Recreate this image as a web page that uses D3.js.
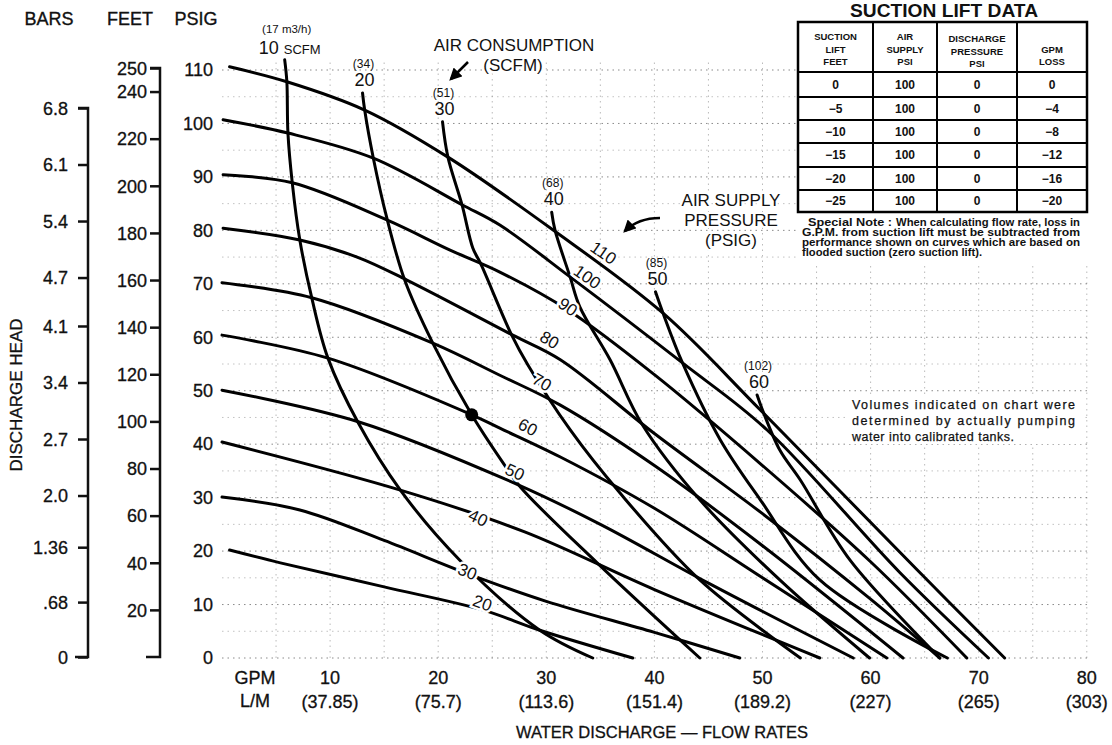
<!DOCTYPE html>
<html><head><meta charset="utf-8">
<script src="https://cdn.jsdelivr.net/npm/d3@7"></script>
<style>
body{margin:0;background:#fff}
svg{display:block}
text{font-family:"Liberation Sans",Arial,Helvetica,sans-serif;fill:#111}
</style>
</head><body>
<svg id="c" width="1112" height="745"></svg>
<script>
// ---------- DATA ----------
const psiTicks = [0,10,20,30,40,50,60,70,80,90,100,110];
const feetTicks = [20,40,60,80,100,120,140,160,180,200,220,240,250];
const barTicks = [0,0.68,1.36,2.0,2.7,3.4,4.1,4.7,5.4,6.1,6.8];
const barLabels = ["0",".68","1.36","2.0","2.7","3.4","4.1","4.7","5.4","6.1","6.8"];
const gpmTicks = [10,20,30,40,50,60,70,80];
const lpmLabels = ["(37.85)","(75.7)","(113.6)","(151.4)","(189.2)","(227)","(265)","(303)"];

// Air supply pressure curves: [GPM, PSIG head]
const psi110 = [[0.7,110.6],[6.0,107.8],[13.2,102.5],[20.9,93.7],[30.6,80.1],[40.8,64.5],[49.8,46.4],[64.3,16.5],[72.4,0]];
const psi100 = [[0.1,100.7],[6.1,98.2],[14.0,93.5],[22.2,84.8],[25.7,81.0],[32.2,71.3],[42.6,55.2],[50.4,42.7],[62.7,16.0],[70.9,0]];
const psi90  = [[0.1,90.4],[6.5,88.9],[15.3,81.9],[21.1,76.3],[25.7,72.2],[32.0,65.1],[40,53],[50,36],[60,18],[68.9,0]];
const psi80  = [[0.1,80.4],[7.2,78.2],[12.5,75.0],[17.1,70.7],[26.9,60.4],[31.3,55.8],[40,42],[50,27],[60,11],[66.4,0]];
const psi70  = [[0.0,70.2],[8.3,67.4],[19.5,58.9],[25.7,52.9],[31.3,47.3],[40,36],[50,21],[63.0,0]];
const psi60  = [[0.0,60.4],[9.8,56.1],[23.1,45.5],[25.7,43.0],[31.3,37.6],[40,28],[50,15],[61.5,0]];
const psi50  = [[0.0,50.1],[12.6,44.2],[27.4,32.4],[35,25],[45,14],[58.4,0]];
const psi40  = [[0.0,40.4],[16.5,31.4],[28,23.6],[40,12.8],[55.3,0]];
const psi30  = [[0.0,30.1],[7.2,27.7],[15,22.0],[22.7,15.8],[30,10.6],[40,4.8],[47.9,0]];
const psi20  = [[0.7,20.2],[5.4,17.8],[15,13.3],[24.1,9.0],[29.4,5.2],[38.0,0]];
const pressureCurves = [psi110,psi100,psi90,psi80,psi70,psi60,psi50,psi40,psi30,psi20];
const pressureNames = ["110","100","90","80","70","60","50","40","30","20"];
// label anchor [GPM, PSIG, rotation deg]
const pressureLabelPos = [[35.3,75.8,35],[33.8,71.3,35],[32.0,65.7,35],[30.3,59.5,30],[29.6,51.6,30],[28.3,43.2,27],[27.1,34.8,25],[23.7,26.2,25],[22.7,16.2,22],[24.1,10.3,20]];

// Air consumption curves (SCFM): [GPM, PSIG]
const scfm10 = [[5.8,111.9],[6.0,107.8],[6.1,98.2],[6.5,88.9],[7.2,78.2],[8.3,67.4],[9.8,56.1],[12.6,44.0],[16.5,31.4],[22.0,18.3],[29.4,5.2],[34.3,0]];
const scfm20 = [[13.0,105.7],[13.2,102.5],[14.0,93.5],[15.3,81.9],[16.9,70.7],[19.5,58.9],[23.1,45.5],[26.0,36.5],[27.6,32.0],[34.7,17.8],[44.2,0]];
const scfm30 = [[20.4,100.3],[20.9,93.7],[22.2,84.8],[23.2,76.7],[23.9,73.9],[26.8,60.4],[28.3,54.8],[32.2,42.7],[36.8,30.9],[44.2,14.6],[53.5,0]];
const scfm40 = [[30.5,83.4],[30.8,80.1],[32.2,71.3],[33.1,65.7],[35.9,55.8],[38.9,43.6],[44.2,29.6],[51.6,14.6],[59.9,0]];
const scfm50 = [[40.1,68.5],[40.8,64.5],[42.6,55.2],[46.1,40.8],[49.8,29.6],[55.3,14.6],[67.1,0]];
const scfm60 = [[49.5,49.2],[50.0,46.4],[51.6,38.9],[53.5,33.3],[58.1,18.3],[66.4,0]];
const scfmCurves = [scfm10,scfm20,scfm30,scfm40,scfm50,scfm60];
const scfmNames = ["10","20","30","40","50","60"];
const scfmM3 = ["(17 m3/h)","(34)","(51)","(68)","(85)","(102)"];

const operatingPoint = [23.1,45.5];

const tableHead = [["SUCTION","LIFT","FEET"],["AIR","SUPPLY","PSI"],["DISCHARGE","PRESSURE","PSI"],["","GPM","LOSS"]];
const suctionLift = ["0","\u22125","\u221210","\u221215","\u221220","\u221225"];
const airSupply = ["100","100","100","100","100","100"];
const dischargePsi = ["0","0","0","0","0","0"];
const gpmLoss = ["0","\u22124","\u22128","\u221212","\u221216","\u221220"];

// ---------- DRAW ----------
const svg = d3.select("#c");
const x = d3.scaleLinear().domain([0,80]).range([222,1086.8]);
const y = d3.scaleLinear().domain([0,110]).range([658,70]);
const yFeet = d3.scaleLinear().domain([0,250]).range([657,68]);
const yBar = d3.scaleLinear().domain([0,6.8]).range([657,108]);
const INK = "#111";

// grid
const grid = svg.append("g").attr("stroke","#777").attr("stroke-width",1).attr("stroke-dasharray","1.5,4");
grid.selectAll("line.h").data(d3.range(0,111,5)).join("line")
  .attr("x1",x(0)).attr("x2",x(80.3)).attr("y1",d=>y(d)).attr("y2",d=>y(d))
  .attr("stroke-opacity",d=>d%10===0?0.85:0.45);
grid.selectAll("line.v").data(d3.range(5,81,5)).join("line")
  .attr("y1",y(0)).attr("y2",y(112)).attr("x1",d=>x(d)).attr("x2",d=>x(d))
  .attr("stroke-opacity",0.5);

// header labels
const hdr = svg.append("g").attr("font-size",18).attr("text-anchor","middle").attr("stroke",INK).attr("stroke-width",0.35);
hdr.append("text").attr("x",49).attr("y",25).text("BARS");
hdr.append("text").attr("x",130).attr("y",25).text("FEET");
hdr.append("text").attr("x",196).attr("y",25).text("PSIG");

// bars axis
const barAxis = d3.axisLeft(yBar).tickValues(barTicks).tickSize(10).tickPadding(10)
  .tickFormat((d,i)=>barLabels[i]);
const gb = svg.append("g").attr("transform","translate(88,0)").call(barAxis);
gb.select(".domain").attr("stroke",INK).attr("stroke-width",2.5).attr("d",`M-10,${yBar(6.8)}H0V${yBar(0)}H-13`);
gb.selectAll(".tick line").attr("stroke",INK).attr("stroke-width",2.5);
gb.selectAll(".tick text").attr("font-size",18).attr("font-family","Liberation Sans, Arial, sans-serif").attr("fill",INK).attr("stroke",INK).attr("stroke-width",0.3).attr("dy","0.35em");

// feet axis
const feetAxis = d3.axisLeft(yFeet).tickValues(feetTicks).tickSize(10).tickPadding(3);
const gf = svg.append("g").attr("transform","translate(160,0)").call(feetAxis);
gf.select(".domain").attr("stroke",INK).attr("stroke-width",2.5).attr("d",`M-10,${yFeet(250)}H0V${yFeet(0)}H-14`);
gf.selectAll(".tick line").attr("stroke",INK).attr("stroke-width",2.5);
gf.selectAll(".tick text").attr("font-size",18).attr("font-family","Liberation Sans, Arial, sans-serif").attr("fill",INK).attr("stroke",INK).attr("stroke-width",0.3).attr("dy","0.35em");

// psig labels (no axis line)
svg.append("g").attr("font-size",18).attr("text-anchor","end").attr("stroke",INK).attr("stroke-width",0.3)
  .selectAll("text").data(psiTicks).join("text")
  .attr("x",213).attr("y",d=>y(d)).attr("dy","0.35em").text(d=>d);

// discharge head title
svg.append("text").attr("transform","translate(22,395) rotate(-90)").attr("text-anchor","middle")
  .attr("font-size",17).attr("stroke",INK).attr("stroke-width",0.3).text("DISCHARGE HEAD");

// x labels
const xl = svg.append("g").attr("font-size",18).attr("text-anchor","middle").attr("stroke",INK).attr("stroke-width",0.3);
xl.selectAll("text.g").data(gpmTicks).join("text").attr("x",d=>x(d)).attr("y",684).text(d=>d);
xl.selectAll("text.l").data(gpmTicks).join("text").attr("x",d=>x(d)).attr("y",708).text((d,i)=>lpmLabels[i]);
xl.append("text").attr("x",255).attr("y",684).text("GPM");
xl.append("text").attr("x",255).attr("y",707).text("L/M");
svg.append("text").attr("x",662).attr("y",738).attr("text-anchor","middle").attr("font-size",16.5).attr("stroke",INK).attr("stroke-width",0.3).text("WATER DISCHARGE \u2014 FLOW RATES");

// curves
const line = d3.line().x(d=>x(d[0])).y(d=>y(d[1])).curve(d3.curveCatmullRom.alpha(0.5));
const curves = svg.append("g").attr("fill","none").attr("stroke","#000").attr("stroke-width",3).attr("stroke-linecap","round");
curves.selectAll("path.p").data(pressureCurves).join("path").attr("d",line);
curves.selectAll("path.s").data(scfmCurves).join("path").attr("d",line);

// operating dot
svg.append("circle").attr("cx",x(operatingPoint[0])).attr("cy",y(operatingPoint[1])).attr("r",6.5).attr("fill","#000");

// pressure labels
svg.append("g").attr("font-size",17).attr("text-anchor","middle")
  .selectAll("text").data(pressureLabelPos).join("text")
  .attr("transform",d=>`translate(${x(d[0])},${y(d[1])}) rotate(${d[2]})`)
  .attr("dy","0.35em").attr("stroke","#fff").attr("stroke-width",5).attr("paint-order","stroke")
  .text((d,i)=>pressureNames[i]);

// scfm labels
const sl = svg.append("g").attr("text-anchor","middle");
scfmCurves.forEach((c,i)=>{
  const px = x(c[0][0]), py = y(c[0][1]);
  if(i===0){
    sl.append("text").attr("x",px+2).attr("y",py-27).attr("font-size",11.5).text(scfmM3[i]);
    const t = sl.append("text").attr("x",px+5).attr("y",py-6).attr("font-size",18);
    t.append("tspan").text("10 ");
    t.append("tspan").attr("font-size",13).text("SCFM");
  } else {
    sl.append("text").attr("x",px+1).attr("y",py-25).attr("font-size",12).text(scfmM3[i]);
    sl.append("text").attr("x",px+2).attr("y",py-7).attr("font-size",18).text(scfmNames[i]);
  }
});

// annotations
const ann = svg.append("g").attr("font-size",17).attr("text-anchor","middle");
ann.append("text").attr("x",514).attr("y",51).text("AIR CONSUMPTION");
ann.append("text").attr("x",513).attr("y",71).attr("stroke","#fff").attr("stroke-width",4).attr("paint-order","stroke").text("(SCFM)");
ann.append("text").attr("x",731).attr("y",206).attr("stroke","#fff").attr("stroke-width",4).attr("paint-order","stroke").text("AIR SUPPLY");
ann.append("text").attr("x",731).attr("y",226).attr("stroke","#fff").attr("stroke-width",4).attr("paint-order","stroke").text("PRESSURE");
ann.append("text").attr("x",731).attr("y",246).attr("stroke","#fff").attr("stroke-width",4).attr("paint-order","stroke").text("(PSIG)");
const defs = svg.append("defs");
defs.append("marker").attr("id","ah").attr("viewBox","0 0 10 10").attr("refX",8).attr("refY",5)
  .attr("markerWidth",5).attr("markerHeight",5).attr("orient","auto")
  .append("path").attr("d","M0,0L10,5L0,10z").attr("fill","#000");
svg.append("path").attr("d","M468,62 L451,79").attr("stroke","#000").attr("stroke-width",2.5).attr("fill","none").attr("marker-end","url(#ah)");
svg.append("path").attr("d","M660,218 Q638,218 625,231").attr("stroke","#000").attr("stroke-width",2.5).attr("fill","none").attr("marker-end","url(#ah)");

// table
const tb = svg.append("g");
tb.append("rect").attr("x",796).attr("y",0).attr("width",300).attr("height",262).attr("fill","#fff");
tb.append("text").attr("x",944).attr("y",17).attr("text-anchor","middle").attr("font-size",18).attr("font-weight","bold").attr("textLength",188).attr("lengthAdjust","spacingAndGlyphs").text("SUCTION LIFT DATA");
const colX = [798,873,937,1017,1087];
const rowY = [22,72,97,120,143,167,190,212];
tb.append("rect").attr("x",colX[0]).attr("y",rowY[0]).attr("width",colX[4]-colX[0]).attr("height",rowY[7]-rowY[0])
  .attr("fill","none").attr("stroke","#000").attr("stroke-width",2.5);
tb.selectAll("line.c").data(colX.slice(1,4)).join("line").attr("x1",d=>d).attr("x2",d=>d).attr("y1",rowY[0]).attr("y2",rowY[7]).attr("stroke","#000").attr("stroke-width",2);
tb.selectAll("line.r").data(rowY.slice(1,7)).join("line").attr("y1",d=>d).attr("y2",d=>d).attr("x1",colX[0]).attr("x2",colX[4]).attr("stroke","#000").attr("stroke-width",2);
tableHead.forEach((lines,ci)=>{
  const cx=(colX[ci]+colX[ci+1])/2;
  lines.forEach((s,li)=>{
    tb.append("text").attr("x",cx).attr("y",rowY[0]+18+li*12.5+(ci===2?2:0)).attr("text-anchor","middle")
      .attr("font-size",9.5).attr("font-weight","bold").text(s);
  });
});
[suctionLift,airSupply,dischargePsi,gpmLoss].forEach((col,ci)=>{
  const cx=(colX[ci]+colX[ci+1])/2;
  col.forEach((s,ri)=>{
    tb.append("text").attr("x",cx).attr("y",(rowY[ri+1]+rowY[ri+2])/2).attr("dy","0.36em").attr("text-anchor","middle")
      .attr("font-size",12).attr("font-weight","bold").text(s);
  });
});
// special note
const nt = tb.append("g").attr("font-size",10.5).attr("font-weight","bold");
nt.append("text").attr("x",808).attr("y",226).attr("textLength",84).attr("lengthAdjust","spacingAndGlyphs").text("Special Note :");
nt.append("text").attr("x",896).attr("y",226).attr("textLength",184).attr("lengthAdjust","spacingAndGlyphs").text("When calculating flow rate, loss in");
nt.append("text").attr("x",802).attr("y",236).attr("textLength",278).attr("lengthAdjust","spacingAndGlyphs").text("G.P.M. from suction lift must be subtracted from");
nt.append("text").attr("x",802).attr("y",246).attr("textLength",278).attr("lengthAdjust","spacingAndGlyphs").text("performance shown on curves which are based on");
nt.append("text").attr("x",802).attr("y",256).attr("textLength",180).attr("lengthAdjust","spacingAndGlyphs").text("flooded suction (zero suction lift).");

// volumes note
const vn = svg.append("g").attr("font-size",12.5).attr("stroke",INK).attr("stroke-width",0.25);
vn.append("rect").attr("x",846).attr("y",396).attr("width",236).attr("height",48).attr("fill","#fff").attr("stroke","none");
vn.append("text").attr("x",852).attr("y",409).attr("textLength",223).attr("lengthAdjust","spacing").text("Volumes indicated on chart were");
vn.append("text").attr("x",852).attr("y",425).attr("textLength",223).attr("lengthAdjust","spacing").text("determined by actually pumping");
vn.append("text").attr("x",852).attr("y",441).attr("textLength",162).attr("lengthAdjust","spacing").text("water into calibrated tanks.");
</script>
</body></html>
